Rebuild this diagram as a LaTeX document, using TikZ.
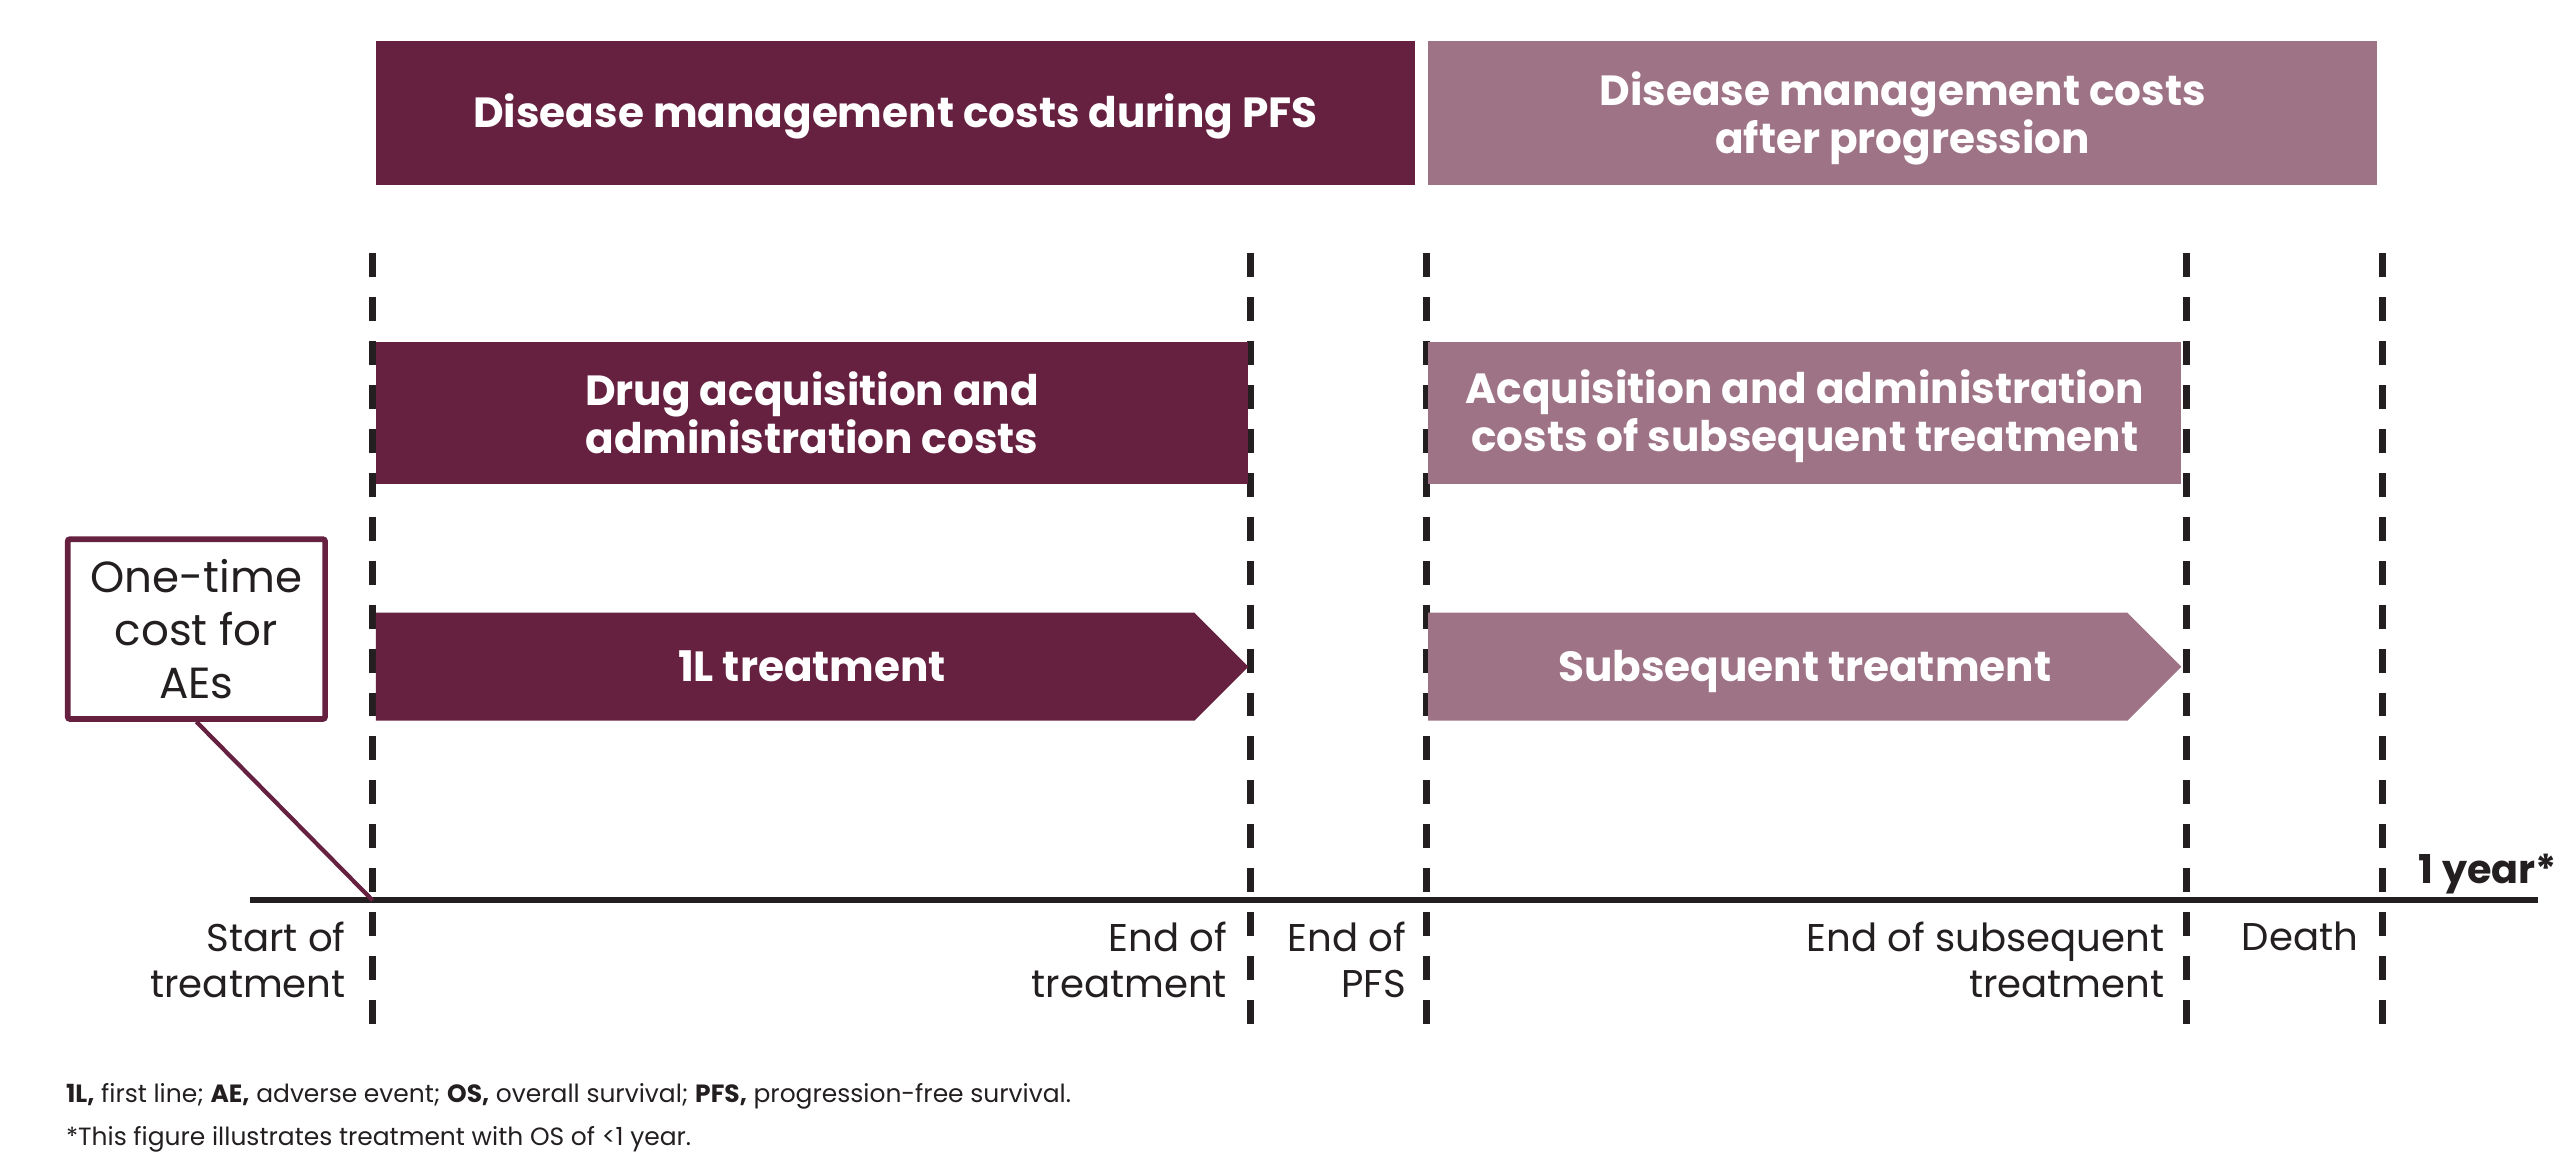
\documentclass[tikz,border=0pt]{standalone}
\usepackage{fontspec}
\setmainfont{Poppins}
\usetikzlibrary{positioning}

\definecolor{plum}{HTML}{662141}
\definecolor{mauve}{HTML}{9E7385}
\definecolor{ink}{HTML}{231F20}

\newlength\px
\setlength\px{0.1634mm}

\tikzset{
	costbox/.style={inner sep=0pt, align=center, text=white, font=\bfseries\fontsize{12}{13.6}\selectfont},
	timecut/.style={ink, line width=2pt, dash pattern=on 6.8pt off 5.7pt},
	evlabel/.style={text=ink, align=right, anchor=north east, inner sep=0pt, font=\fontsize{11}{13}\selectfont},
	notetext/.style={anchor=base west, inner sep=0pt, text=ink, font=\fontsize{7.1}{8}\selectfont},
}

\begin{document}
\begin{tikzpicture}[x=0.1634mm, y=-0.1634mm, line join=miter]
					\useasboundingbox (0,0) rectangle (1568,706);
					% event lines
					\foreach \x/\n in {228/t0, 765.5/t1, 873/t2, 1338/t3, 1458/t4}{
						\coordinate (\n top) at (\x,155);
						\coordinate (\n) at (\x,551);
						\coordinate (\n bot) at (\x,631);
						\draw[timecut] (\n top) -- (\n bot);}
					\coordinate (axL) at (153,551);
					\coordinate (axR) at (1553,551);
					\draw[ink, line width=1.7pt] (axL) -- (axR);
					\node[anchor=base west, inner sep=0pt, text=ink, font=\bfseries\fontsize{11.3}{13}\selectfont] (oneyr) at (1480,540.5) {1 year*};
					% cost blocks
					\fill[plum] (230,25) rectangle (866,113);
					\node[costbox] (pfs) at (548,71) {Disease management costs during PFS};
					\fill[mauve] (874,25) rectangle (1455,113);
					\node[costbox] (prog) at (1164.5,72.5) {Disease management costs\\after progression};
					\fill[plum] (230,209) rectangle (764,296);
					\node[costbox] (drug) at (497,252.5) {Drug acquisition and\\administration costs};
					\fill[mauve] (874,209) rectangle (1335,296);
					\node[costbox] (subacq) at (1104.5,254.5) {Acquisition and administration\\costs of subsequent treatment};
					\fill[plum] (230,375) -- (731,375) -- (764,408) -- (731,441) -- (230,441) -- cycle;
					\node[costbox, anchor=base] (first) at (497,417) {1L treatment};
					\fill[mauve] (874,375) -- (1302,375) -- (1335,408) -- (1302,441) -- (874,441) -- cycle;
					\node[costbox, anchor=base] (subs) at (1104.5,417) {Subsequent treatment};
					% adverse events
					\node[draw=plum, line width=1.6pt, rounded corners=0.6pt, minimum width=157.5\px, minimum height=110\px, inner sep=0pt, align=center, text=ink, font=\fontsize{12.4}{15}\selectfont] (ae) at (120.2,385) {One-time\\cost for\\AEs};
					\draw[plum, line width=1.2pt] (ae.south) -- (t0);
					% event labels
					\node[evlabel] (lstart) at (212,564) {Start of\\treatment};
					\node[evlabel] (lend) at (751.4,564) {End of\\treatment};
					\node[evlabel] (lpfs) at (861,564) {End of\\PFS};
					\node[evlabel] (lsub) at (1325,564) {End of subsequent\\treatment};
					\node[evlabel, anchor=north, align=center] (ldeath) at (1407.6,564) {Death};
					% notes
					\node[notetext] (abbr) at (40,675) {\textbf{1L,} first line; \textbf{AE,} adverse event; \textbf{OS,} overall survival; \textbf{PFS,} progression-free survival.};
					\node[notetext] (note) at (40,701) {*This figure illustrates treatment with OS of <1 year.};
\end{tikzpicture}
\end{document}
